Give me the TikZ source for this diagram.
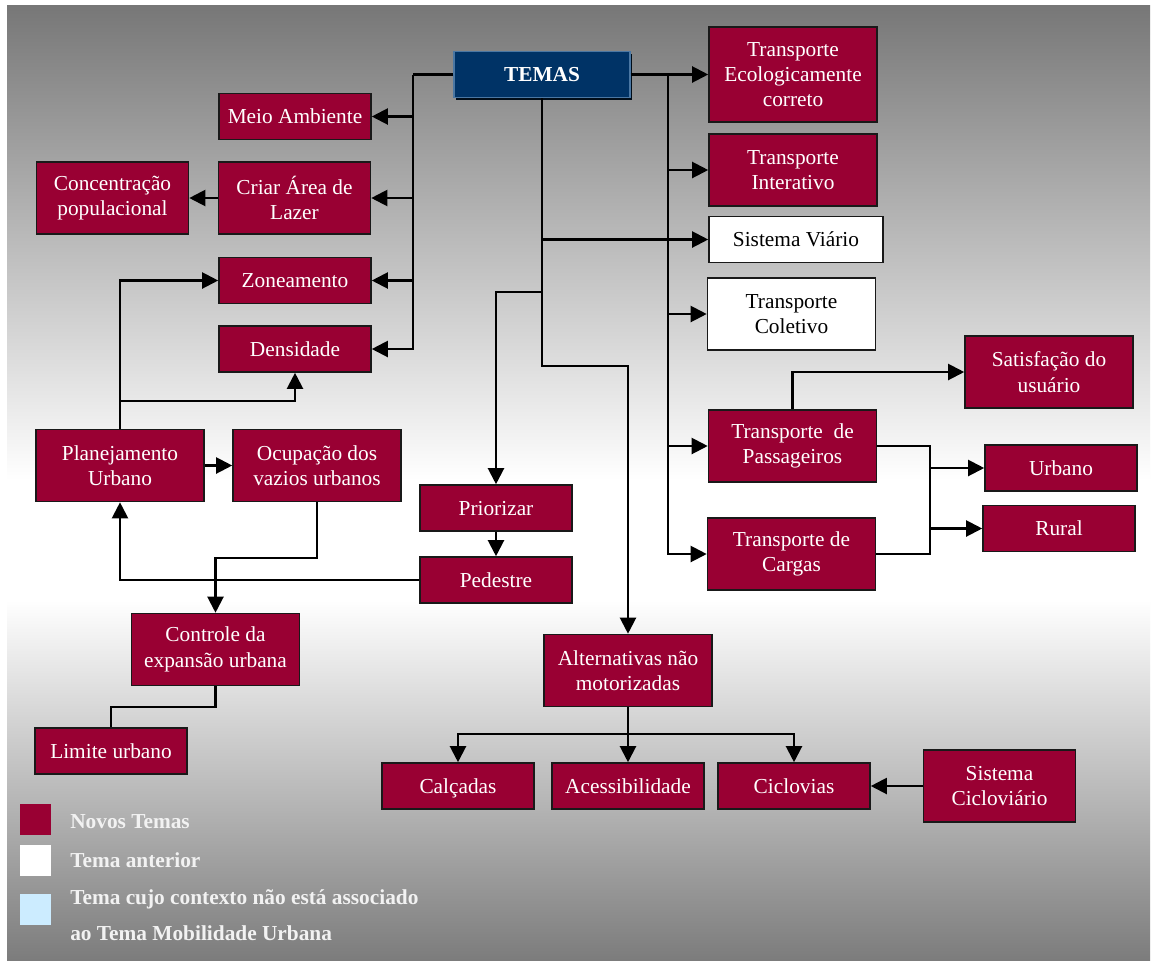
\documentclass[tikz,border=0pt]{standalone}
\usepackage{fontspec}
\setmainfont{Liberation Serif}
\usepackage{xcolor}
\usepackage{tikz}
\usetikzlibrary{arrows.meta,shadows}
\definecolor{vinho}{HTML}{990033}
\definecolor{azultema}{HTML}{003366}
\definecolor{bordaazul}{HTML}{4A77A3}
\definecolor{fundo}{HTML}{777777}
\definecolor{fundob}{HTML}{7C7C7C}
\definecolor{azulclaro}{HTML}{CCECFF}
\definecolor{legtexto}{HTML}{F2F2F2}
\newcommand\caixa{\fontsize{16}{19}\selectfont}

\begin{document}
\begin{tikzpicture}[x=0.75pt, y=-0.75pt, >={Triangle[length=12pt,width=12pt]},
  caixa/.style={rectangle, draw=black!90, line width=1.2pt, fill=vinho, text=white, align=center, inner sep=1pt, font=\caixa},
  tema/.style={caixa, minimum width=114pt, minimum height=34.5pt, text height=11pt, text depth=0pt},
  alto/.style={caixa, minimum width=126pt, minimum height=54pt},
  anterior/.style={fill=white, text=black},
  temas/.style={tema, fill=azultema, draw=bordaazul, line width=0.8pt, minimum width=132pt, font=\caixa\bfseries, drop shadow={shadow xshift=1.6pt, shadow yshift=-1.6pt, fill=black!75!azultema, opacity=1}},
  liga/.style={line width=1.6pt},
  quadro/.style={inner sep=0pt, minimum size=23.25pt},
  legenda/.style={anchor=west, inner sep=0pt, text=legtexto, align=left, font=\fontsize{16}{27}\selectfont\bfseries}]
  \useasboundingbox (0,0) rectangle (1157,965);
  \fill[white] (0,0) rectangle (1157,965);
  \fill[top color=fundo, bottom color=white] (7,5) rectangle (1150,480);
  \fill[white] (7,479) rectangle (1150,601);
  \fill[top color=white, bottom color=fundob] (7,600) rectangle (1150,960);

  \node[temas] (temas) at (542,74.5) {TEMAS};
  \node[alto, minimum height=71.25pt] (ecolog) at (793,74.5) {Transporte\\Ecologicamente\\correto};
  \node[alto] (interat) at (793,170) {Transporte\\Interativo};
  \node[tema, anterior, minimum width=130.5pt] (viario) at (796,239.5) {Sistema Viário};
  \node[alto, anterior] (coletivo) at (791.5,314) {Transporte\\Coletivo};
  \node[alto] (satisf) at (1049,372) {Satisfação do\\usuário};
  \node[alto] (passag) at (792.5,446) {Transporte~ de\\Passageiros};
  \node[alto] (cargas) at (791.5,554) {Transporte de\\Cargas};
  \node[tema] (urbano) at (1061,468) {Urbano};
  \node[tema] (rural) at (1059,528.5) {Rural};
  \node[tema] (meio) at (295,116.5) {Meio Ambiente};
  \node[alto, minimum width=114pt] (lazer) at (294.5,198) {Criar Área de\\Lazer};
  \node[alto, minimum width=114pt] (concent) at (112.5,198) {Concentração\\populacional};
  \node[tema] (zonea) at (295,280.5) {Zoneamento};
  \node[tema] (dens) at (295,349) {Densidade};
  \node[alto] (planej) at (120,465.5) {Planejamento\\Urbano};
  \node[alto] (ocup) at (317,465.5) {Ocupação dos\\vazios urbanos};
  \node[tema] (prior) at (496,508) {Priorizar};
  \node[tema] (pedestre) at (496,580) {Pedestre};
  \node[alto] (controle) at (215.5,649.5) {Controle da\\expansão urbana};
  \node[tema] (limite) at (111,751) {Limite urbano};
  \node[alto] (alternat) at (628,670.5) {Alternativas não\\motorizadas};
  \node[tema] (calcadas) at (458,786) {Calçadas};
  \node[tema] (acess) at (628,786) {Acessibilidade};
  \node[tema] (ciclov) at (794,786) {Ciclovias};
  \node[alto, minimum width=114pt] (sistcic) at (999.5,786) {Sistema\\Cicloviário};

  \coordinate (lbus) at (413,74.5);
  \coordinate (rbus) at (668,74.5);
  \coordinate (tbus) at (930,468);
  \draw[liga] (temas.west) -- (lbus);
  \foreach \n in {meio,lazer,zonea,dens}
    \draw[liga,->] (lbus) |- (\n);
  \draw[liga,->] (temas) -- (ecolog);
  \foreach \n in {interat,coletivo,passag,cargas}
    \draw[liga,->] (rbus) |- (\n);
  \draw[liga,->] (temas.south) |- (viario);
  \draw[liga,->] (temas.south) -- ++(0,194) -| (prior);
  \draw[liga,->] (temas.south) -- ++(0,268) -| (alternat);
  \draw[liga,->] (prior) -- (pedestre);
  \draw[liga,->] (pedestre.west) -| (planej);
  \draw[liga,->] (planej.north) |- (zonea);
  \draw[liga,->] (planej.north) -- ++(0,-28) -| (dens);
  \draw[liga,->] (planej) -- (ocup);
  \draw[liga,->] (ocup.south) -- ++(0,56) -| (controle);
  \draw[liga] (controle.south) -- ++(0,21) -| (limite);
  \draw[liga,->] (lazer) -- (concent);
  \draw[liga,->] (passag.north) |- (satisf);
  \draw[liga] (passag.east) -| (tbus) |- (cargas.east);
  \draw[liga,->] (tbus) -- (urbano);
  \draw[liga,->] (tbus |- rural) -- (rural);
  \draw[liga] (alternat.south) -- ++(0,27) coordinate (abus);
  \foreach \n in {calcadas,acess,ciclov}
    \draw[liga,->] (abus) -| (\n);
  \draw[liga,->] (sistcic) -- (ciclov);

  \node[quadro, fill=vinho] (lnovo) at (35.5,819.5) {};
  \node[quadro, fill=white] (lant) at (35.5,860.5) {};
  \node[quadro, fill=azulclaro] (lctx) at (35.5,909.5) {};
  \node[legenda] (tnovo) at (70,822) {Novos Temas};
  \node[legenda] (tant) at (70,860) {Tema anterior};
  \node[legenda] (tctx) at (70,915) {Tema cujo contexto não está associado\\ao Tema Mobilidade Urbana};
\end{tikzpicture}
\end{document}
